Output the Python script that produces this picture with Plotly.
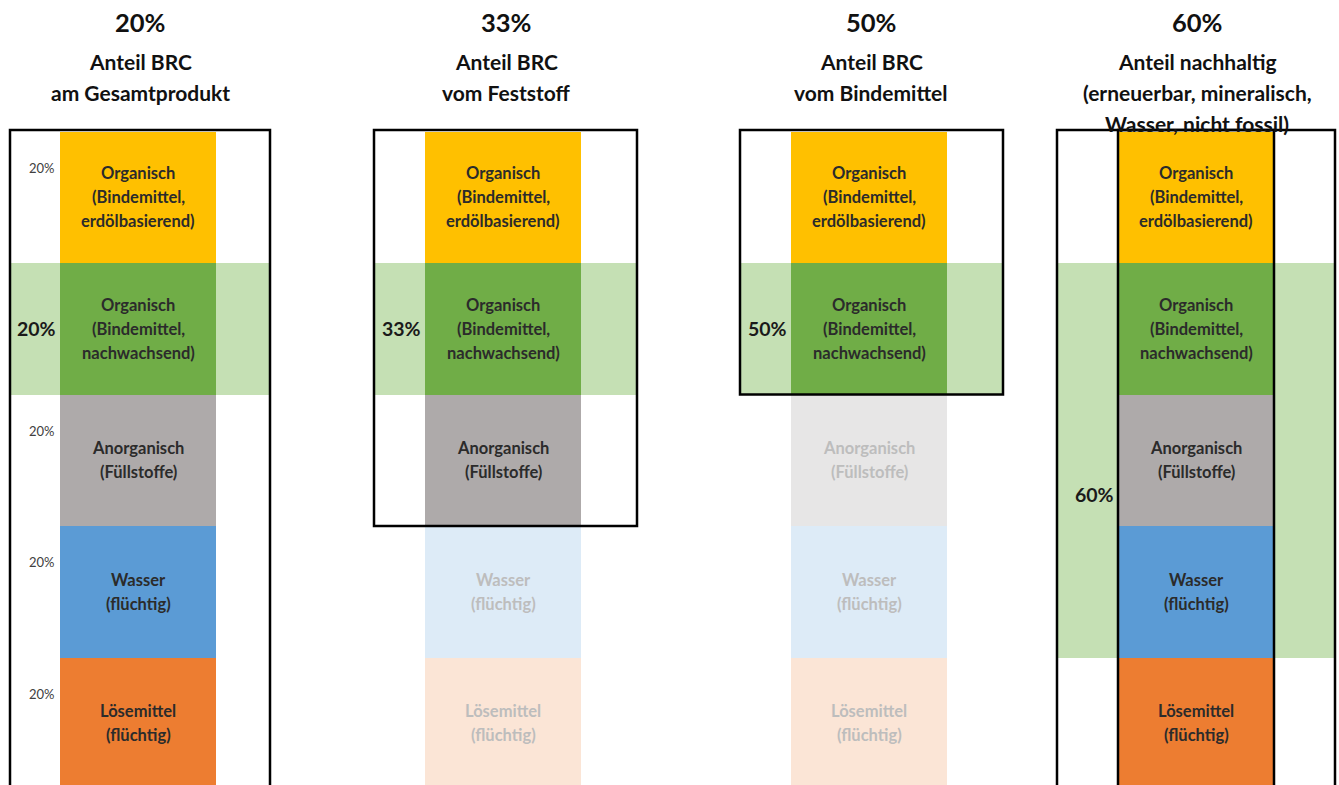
import plotly.graph_objects as go

# ---------------- data ----------------
header_pct = ["20%", "33%", "50%", "60%"]
header_lines = [
    ["Anteil BRC", "am Gesamtprodukt"],
    ["Anteil BRC", "vom Feststoff"],
    ["Anteil BRC", "vom Bindemittel"],
    ["Anteil nachhaltig", "(erneuerbar, mineralisch,", "Wasser, nicht fossil)"],
]
component_lines = [
    ["Organisch", "(Bindemittel,", "erdölbasierend)"],
    ["Organisch", "(Bindemittel,", "nachwachsend)"],
    ["Anorganisch", "(Füllstoffe)"],
    ["Wasser", "(flüchtig)"],
    ["Lösemittel", "(flüchtig)"],
]
shares = [20, 20, 20, 20, 20]
share_labels = ["20%", "20%", "20%", "20%", "20%"]
# 1 = counted in the reference base (full colour), 0 = excluded (faded)
active = [
    [1, 1, 1, 1, 1],
    [1, 1, 1, 0, 0],
    [1, 1, 0, 0, 0],
    [1, 1, 1, 1, 1],
]
band_from = [20, 20, 20, 20]
band_to = [40, 40, 40, 80]
band_labels = ["20%", "33%", "50%", "60%"]
box_to = [101, 60, 40, 101]

# ---------------- style ----------------
full_colors = ["#FFC000", "#70AD47", "#AEAAAA", "#5B9BD5", "#ED7D31"]
faded_colors = ["#FFF2CC", "#E2F0D9", "#E7E6E6", "#DDEBF7", "#FBE5D6"]
band_color = "#C5E0B4"
FONT = "Lato"

bar_left = [60, 425, 791, 1118]
bar_w = 156
box_left = [10, 374, 740, 1057]
box_right = [270, 637, 1003, 1335]
head_x = [140, 506, 871, 1197]

H = 785
PX_PER_PCT = 6.575
TOP_PX = 131.5


def px_to_pct(py):
    return (py - TOP_PX) / PX_PER_PCT


fig = go.Figure()

# green bands
for c in range(4):
    fig.add_trace(go.Bar(
        x=[(box_left[c] + box_right[c]) / 2], y=[band_to[c] - band_from[c]],
        base=[band_from[c]], width=[box_right[c] - box_left[c]],
        marker=dict(color=band_color, line=dict(width=0)),
        hoverinfo="skip", showlegend=False))

annotations = []
# stacked component segments
for c in range(4):
    start = 0
    cx = bar_left[c] + bar_w / 2
    for i, v in enumerate(shares):
        on = active[c][i]
        fig.add_trace(go.Bar(
            x=[cx], y=[v], base=[start], width=[bar_w],
            marker=dict(color=full_colors[i] if on else faded_colors[i], line=dict(width=0)),
            hoverinfo="skip", showlegend=False))
        lines = component_lines[i]
        mid = start + v / 2
        n = len(lines)
        for k, t in enumerate(lines):
            annotations.append(dict(
                x=cx, y=mid, xref="x", yref="y", text="<b>%s</b>" % t,
                showarrow=False, yshift=-(k - (n - 1) / 2) * 24,
                font=dict(family=FONT, size=16.5, color="#2b2b2b" if on else "#BDBDBD")))
        # small share labels (first column, outside the band)
        if c == 0 and not (band_from[c] <= start < band_to[c]):
            annotations.append(dict(
                x=57, y=start + 36 / PX_PER_PCT, xref="x", yref="y", text=share_labels[i],
                showarrow=False, xanchor="right",
                font=dict(family=FONT, size=13, color="#404040")))
        start += v

# band labels
for c in range(4):
    ymid = (band_from[c] + band_to[c]) / 2
    if band_to[c] - band_from[c] > 20:
        ymid = px_to_pct(494)
    annotations.append(dict(
        x=bar_left[c] - 24, y=ymid, xref="x", yref="y", text="<b>%s</b>" % band_labels[c],
        showarrow=False, font=dict(family=FONT, size=19.5, color="#1a1a1a")))

# headers
for c in range(4):
    annotations.append(dict(
        x=head_x[c], y=px_to_pct(22), xref="x", yref="y", text="<b>%s</b>" % header_pct[c],
        showarrow=False, font=dict(family=FONT, size=25.5, color="#111111")))
    for k, t in enumerate(header_lines[c]):
        annotations.append(dict(
            x=head_x[c], y=px_to_pct(61 + 31 * k), xref="x", yref="y", text="<b>%s</b>" % t,
            showarrow=False, font=dict(family=FONT, size=21, color="#111111")))

# boxes
shapes = []
for c in range(4):
    shapes.append(dict(type="rect", xref="x", yref="y", x0=box_left[c], x1=box_right[c],
                       y0=px_to_pct(130), y1=box_to[c],
                       line=dict(color="black", width=2.5), fillcolor="rgba(0,0,0,0)", layer="above"))
# inner box around the bar in the last column
shapes.append(dict(type="rect", xref="x", yref="y", x0=bar_left[3], x1=bar_left[3] + bar_w,
                   y0=px_to_pct(130), y1=101,
                   line=dict(color="black", width=2.5), fillcolor="rgba(0,0,0,0)", layer="above"))

fig.update_layout(
    width=1339, height=785, margin=dict(l=0, r=0, t=0, b=0),
    paper_bgcolor="white", plot_bgcolor="white",
    barmode="overlay", bargap=0,
    xaxis=dict(range=[0, 1339], visible=False, fixedrange=True),
    yaxis=dict(range=[px_to_pct(H), px_to_pct(0)], visible=False, fixedrange=True),
    annotations=annotations, shapes=shapes, showlegend=False,
)

fig.write_html("out.html")
